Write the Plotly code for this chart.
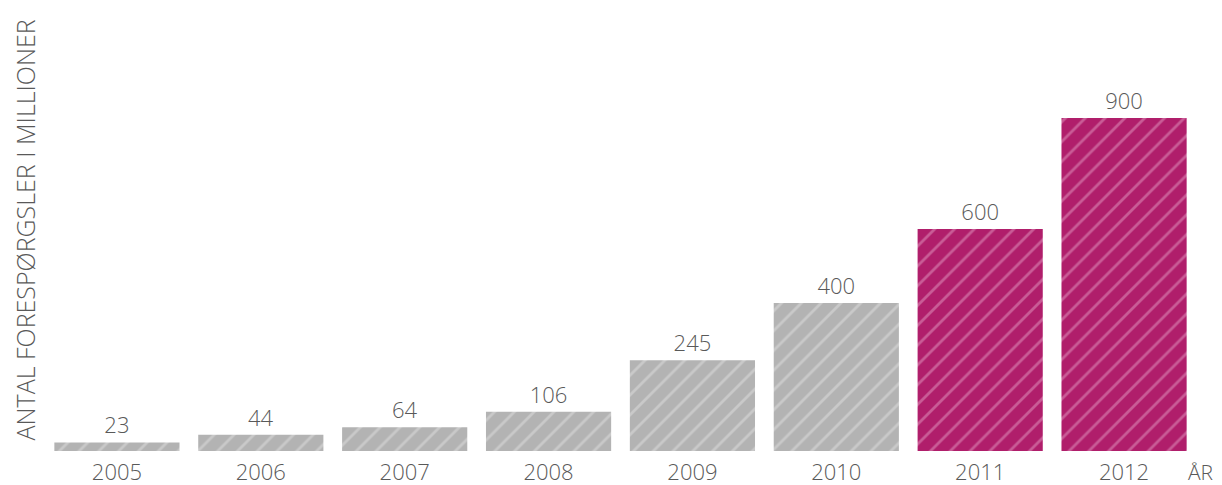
import plotly.graph_objects as go

years = ["2005", "2006", "2007", "2008", "2009", "2010", "2011", "2012"]
values = [23, 44, 64, 106, 245, 400, 600, 900]
highlight = [False, False, False, False, False, False, True, True]

GRAY_BG = "#b3b3b3"
GRAY_FG = "#c9c9c9"
MAG_BG = "#b01e6b"
MAG_FG = "#c95c96"
TEXT = "#595959"
FONT = "Open Sans"

fig = go.Figure()
for flag, bgc, fgc in [(False, GRAY_BG, GRAY_FG), (True, MAG_BG, MAG_FG)]:
    xs = [y for y, h in zip(years, highlight) if h == flag]
    vs = [v for v, h in zip(values, highlight) if h == flag]
    fig.add_trace(
        go.Bar(
            x=xs,
            y=vs,
            text=[str(v) for v in vs],
            textposition="outside",
            textfont=dict(family=FONT, size=22, color=TEXT, weight=300),
            cliponaxis=False,
            marker=dict(
                color=bgc,
                line=dict(width=0),
                pattern=dict(shape="/", bgcolor=bgc, fgcolor=fgc, fgopacity=1,
                             size=14, solidity=0.2, fillmode="replace"),
            ),
            hoverinfo="skip",
        )
    )

fig.update_layout(
    width=1222,
    height=485,
    margin=dict(l=45, r=26, t=10, b=34, autoexpand=False),
    plot_bgcolor="white",
    paper_bgcolor="white",
    barmode="overlay",
    bargap=0.13,
    showlegend=False,
    font=dict(family=FONT, color=TEXT),
    xaxis=dict(
        type="category",
        categoryorder="array",
        categoryarray=years,
        automargin=False,
        showgrid=False,
        showline=False,
        zeroline=False,
        ticks="",
        ticklabelstandoff=6,
        tickfont=dict(family=FONT, size=22, color=TEXT, weight=300),
    ),
    yaxis=dict(
        range=[0, 1192],
        automargin=False,
        showgrid=False,
        showline=False,
        zeroline=False,
        showticklabels=False,
        ticks="",
    ),
    annotations=[
        dict(
            text="ANTAL FORESPØRGSLER I MILLIONER",
            textangle=-90,
            xref="paper", yref="paper",
            x=(24 - 45) / 1151, y=0.5,
            xanchor="center", yanchor="middle",
            showarrow=False,
            font=dict(family=FONT, size=25, color=TEXT, weight=300),
        ),
        dict(
            text="ÅR",
            xref="paper", yref="paper",
            x=(1215 - 45) / 1151, y=-(472 - 451) / 441,
            xanchor="right", yanchor="middle",
            showarrow=False,
            font=dict(family=FONT, size=21, color=TEXT, weight=300),
        ),
    ],
)

fig.write_html("out.html", config={"displayModeBar": False},
               post_script="document.body.style.margin='0';")
